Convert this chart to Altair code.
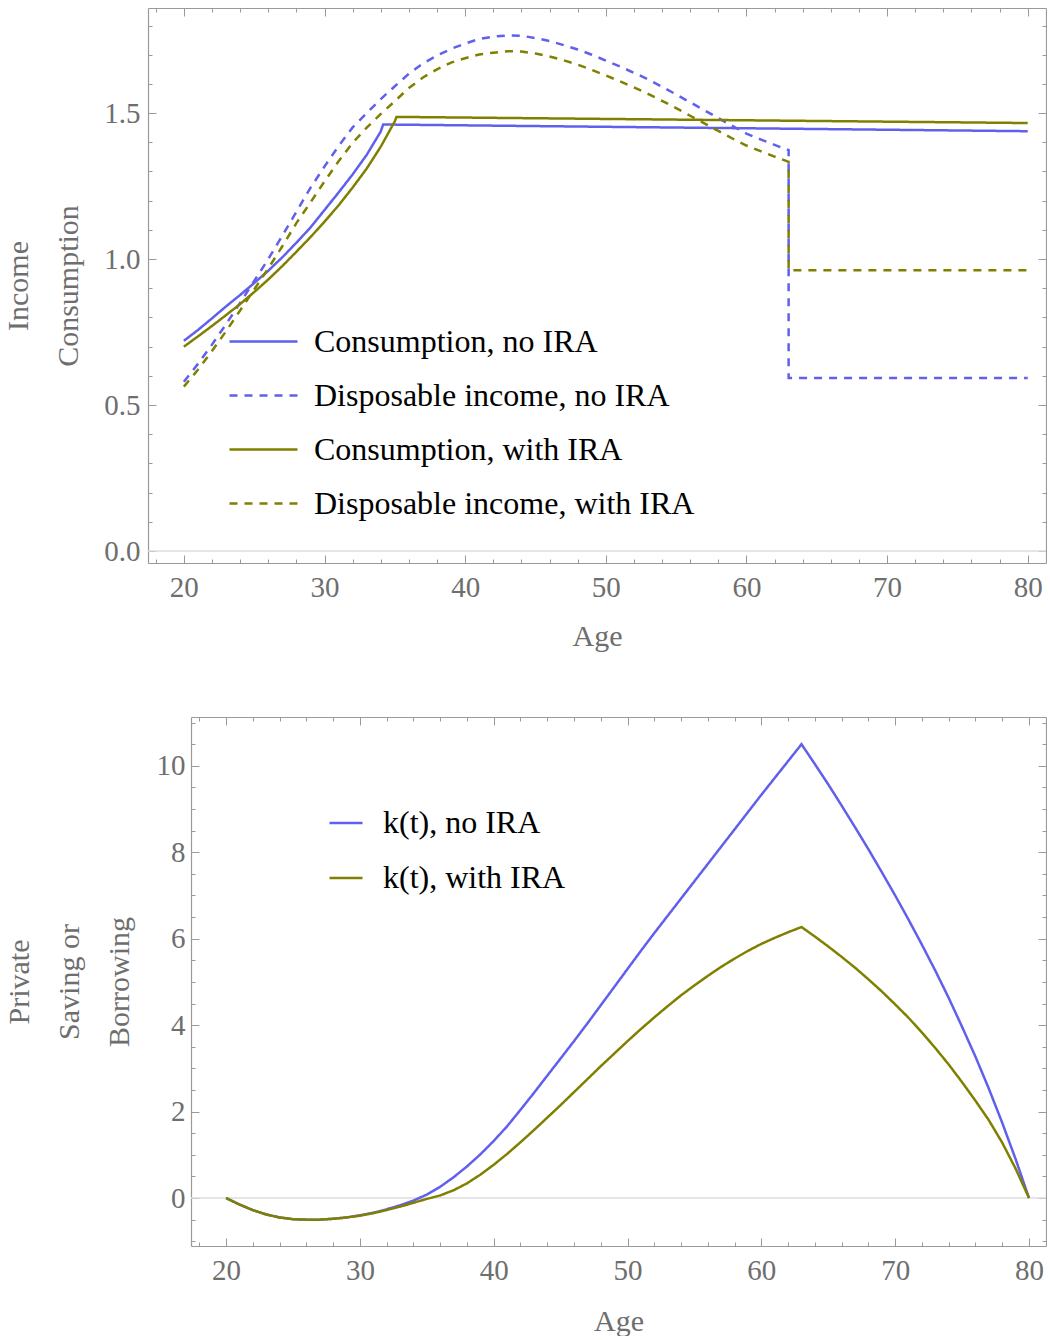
import altair as alt
import pandas as pd

FONT = "Liberation Serif"
TXT = "#6e6e6e"
FRAME = "#9a9a9a"
BLUE = "#6060ec"
OLIVE = "#808000"

# ---------------- top panel data ----------------
top_names = ["Consumption, no IRA", "Disposable income, no IRA",
             "Consumption, with IRA", "Disposable income, with IRA"]

cons_no_age = [20, 21, 22, 23, 24, 25, 26, 27, 28, 29, 30, 31, 32, 33, 34, 34.17, 80]
cons_no_val = [0.720, 0.757, 0.797, 0.838, 0.877, 0.918, 0.960, 1.006, 1.056, 1.108,
               1.168, 1.228, 1.290, 1.357, 1.437, 1.461, 1.438]

cons_ira_age = [20, 21, 22, 23, 24, 25, 26, 27, 28, 29, 30, 31, 32, 33, 34, 35, 35.12, 80]
cons_ira_val = [0.700, 0.735, 0.771, 0.808, 0.846, 0.887, 0.930, 0.976, 1.025, 1.075,
                1.128, 1.184, 1.245, 1.310, 1.385, 1.472, 1.487, 1.466]

inc_age = list(range(20, 64)) + [63, 80]
inc_no_val = [0.580, 0.641, 0.707, 0.777, 0.850, 0.925, 1.000, 1.080, 1.162, 1.244,
              1.317, 1.387, 1.451, 1.500, 1.548, 1.592, 1.635, 1.670, 1.697, 1.720,
              1.738, 1.754, 1.762, 1.766, 1.765, 1.757, 1.747, 1.733, 1.718, 1.700,
              1.680, 1.660, 1.638, 1.616, 1.590, 1.564, 1.537, 1.510, 1.483, 1.456,
              1.430, 1.410, 1.391, 1.373, 0.593, 0.593]
inc_ira_val = [0.563, 0.621, 0.685, 0.753, 0.824, 0.896, 0.968, 1.044, 1.123, 1.194,
               1.266, 1.335, 1.398, 1.450, 1.497, 1.541, 1.586, 1.622, 1.650, 1.673,
               1.688, 1.701, 1.707, 1.712, 1.711, 1.704, 1.694, 1.681, 1.666, 1.648,
               1.629, 1.609, 1.588, 1.566, 1.542, 1.517, 1.491, 1.465, 1.439, 1.413,
               1.389, 1.370, 1.351, 1.333, 0.962, 0.962]

# ---------------- bottom panel data ----------------
bot_names = ["k(t), no IRA", "k(t), with IRA"]
k_age = list(range(20, 81))
k_no_val = [0.00, -0.15, -0.28, -0.38, -0.45, -0.49, -0.50, -0.50, -0.48, -0.45,
            -0.40, -0.34, -0.26, -0.17, -0.06, 0.08, 0.26, 0.48, 0.73, 1.01,
            1.32, 1.66, 2.04, 2.43, 2.83, 3.23, 3.63, 4.04, 4.46, 4.88,
            5.30, 5.72, 6.13, 6.53, 6.93, 7.33, 7.73, 8.13, 8.53, 8.93,
            9.33, 9.72, 10.11, 10.50, 10.04, 9.57, 9.08, 8.58, 8.07, 7.54,
            7.00, 6.44, 5.86, 5.26, 4.63, 3.96, 3.27, 2.53, 1.74, 0.90, 0.00]
k_ira_val = [0.00, -0.15, -0.28, -0.38, -0.45, -0.49, -0.50, -0.50, -0.48, -0.45,
             -0.41, -0.35, -0.28, -0.20, -0.11, -0.02, 0.06, 0.18, 0.34, 0.54,
             0.77, 1.02, 1.29, 1.57, 1.86, 2.15, 2.45, 2.75, 3.05, 3.34,
             3.63, 3.91, 4.18, 4.44, 4.69, 4.92, 5.14, 5.35, 5.54, 5.72,
             5.88, 6.02, 6.15, 6.27, 6.05, 5.82, 5.58, 5.33, 5.06, 4.78,
             4.48, 4.17, 3.83, 3.47, 3.09, 2.68, 2.25, 1.80, 1.28, 0.68, 0.00]

# tick values
x_major = [20, 30, 40, 50, 60, 70, 80]
x_minor = [18, 22, 24, 26, 28, 32, 34, 36, 38, 42, 44, 46, 48, 52, 54, 56, 58,
           62, 64, 66, 68, 72, 74, 76, 78]
top_y_major = [0.0, 0.5, 1.0, 1.5]
top_y_minor = [0.1, 0.2, 0.3, 0.4, 0.6, 0.7, 0.8, 0.9, 1.1, 1.2, 1.3, 1.4, 1.6, 1.7, 1.8]
bot_y_major = [0, 2, 4, 6, 8, 10]
bot_y_minor = [-1, -0.5, 0.5, 1, 1.5, 2.5, 3, 3.5, 4.5, 5, 5.5, 6.5, 7, 7.5, 8.5,
               9, 9.5, 10.5, 11]


def frame(ages_list, vals_list, names):
    rows = []
    for ages, vals, name in zip(ages_list, vals_list, names):
        for i, (a, v) in enumerate(zip(ages, vals)):
            rows.append({"age": a, "value": v, "series": name, "idx": i})
    return pd.DataFrame(rows)


top_df = frame([cons_no_age, inc_age, cons_ira_age, inc_age],
               [cons_no_val, inc_no_val, cons_ira_val, inc_ira_val], top_names)
bot_df = frame([k_age, k_age], [k_no_val, k_ira_val], bot_names)


def tick_axis(orient, values, size, shift=0):
    return alt.Axis(orient=orient, values=values, labels=False, domain=False,
                    ticks=True, tickSize=size, tickColor=FRAME, tickWidth=1,
                    offset=-(size + shift), title=None, grid=False)


def domain_axis(orient):
    return alt.Axis(orient=orient, labels=False, ticks=False, domain=True,
                    domainColor=FRAME, domainWidth=1.2, title=None, grid=False,
                    offset=0)


def panel(df, names, colors, dashes, xdom, ydom, ymaj, ymin, yfmt, ytitle,
          w, h, shift, legend, ylab_pad, ytitle_pad, xtitle_pad):
    xs = alt.Scale(domain=xdom, range=[shift, w], nice=False, zero=False)
    ys = alt.Scale(domain=ydom, nice=False, zero=False)
    xlab = alt.Axis(orient="bottom", values=x_major, format="d", ticks=False,
                    domain=True, domainColor=FRAME, domainWidth=1.2, grid=False,
                    labelFont=FONT, labelFontSize=29, labelColor=TXT,
                    labelPadding=10, labelFlush=False,
                    title="Age", titleFont=FONT, titleFontSize=30,
                    titleFontWeight="normal", titleColor=TXT, titlePadding=xtitle_pad)
    ylab = alt.Axis(orient="left", values=ymaj, format=yfmt, ticks=False,
                    domain=True, domainColor=FRAME, domainWidth=1.2, grid=False,
                    offset=-shift,
                    labelFont=FONT, labelFontSize=29, labelColor=TXT,
                    labelPadding=ylab_pad, labelFlush=False,
                    title=ytitle, titleFont=FONT, titleFontSize=30,
                    titleFontWeight="normal", titleColor=TXT,
                    titlePadding=ytitle_pad, titleLineHeight=50)
    zero_df = pd.DataFrame({"v": [0.0], "x0": [xdom[0]], "x1": [xdom[1]]})
    zero = alt.Chart(zero_df).mark_rule(color="#dddddd", strokeWidth=1.5).encode(
        x=alt.X("x0:Q", scale=xs, axis=None),
        x2="x1:Q",
        y=alt.Y("v:Q", scale=ys, axis=None))
    lines = alt.Chart(df).mark_line(strokeWidth=2.5).encode(
        x=alt.X("age:Q", scale=xs, axis=xlab),
        y=alt.Y("value:Q", scale=ys, axis=ylab),
        color=alt.Color("series:N", scale=alt.Scale(domain=names, range=colors),
                        legend=legend),
        strokeDash=alt.StrokeDash("series:N",
                                  scale=alt.Scale(domain=names, range=dashes),
                                  legend=legend),
        detail="series:N",
        order="idx:Q",
    )

    def ghost(xa, ya):
        return alt.Chart(df).mark_line(opacity=0).encode(
            x=alt.X("age:Q", scale=xs, axis=xa),
            y=alt.Y("value:Q", scale=ys, axis=ya),
            detail="series:N")

    layers = [
        zero, lines,
        ghost(tick_axis("bottom", x_major, 8), tick_axis("left", ymaj, 8, shift)),
        ghost(tick_axis("bottom", x_minor, 4), tick_axis("left", ymin, 4, shift)),
        ghost(tick_axis("top", x_major, 8), tick_axis("right", ymaj, 8)),
        ghost(tick_axis("top", x_minor, 4), tick_axis("right", ymin, 4)),
        ghost(domain_axis("top"), domain_axis("right")),
    ]
    return alt.layer(*layers).resolve_axis(x="independent", y="independent").properties(
        width=w, height=h)


def make_legend(x, y, size, offset, row_pad):
    return alt.Legend(orient="none", legendX=x, legendY=y, title=None,
                      symbolType="stroke", symbolSize=size, symbolStrokeWidth=2.5,
                      labelFont=FONT, labelFontSize=32, labelColor="black",
                      labelLimit=700, labelOffset=offset, rowPadding=row_pad,
                      padding=0)


top = panel(top_df, top_names, [BLUE, BLUE, OLIVE, OLIVE],
            [[1, 0], [8, 7], [1, 0], [8, 7]],
            [17.45, 81.3], [-0.041, 1.86], top_y_major, top_y_minor, ".1f",
            ["Income", "Consumption"], 898, 555, 0,
            make_legend(80, 298, 4624, 15, 2), 8, 20, 19)

bottom = panel(bot_df, bot_names, [BLUE, OLIVE], [[1, 0], [1, 0]],
               [17.38, 81.27], [-1.11, 11.13], bot_y_major, bot_y_minor, "d",
               ["Private", "Saving or", "Borrowing"], 898, 529, 43,
               make_legend(180, 88, 1089, 19, 21), 6, 22, 21)

chart = alt.vconcat(top, bottom, spacing=65).resolve_scale(
    color="independent", strokeDash="independent", x="independent", y="independent"
).properties(
    padding={"left": 3, "top": 7, "right": 0, "bottom": 0},
    background="white",
).configure_view(strokeOpacity=0)

chart.save("out.html", embed_options={"renderer": "svg", "actions": False})
